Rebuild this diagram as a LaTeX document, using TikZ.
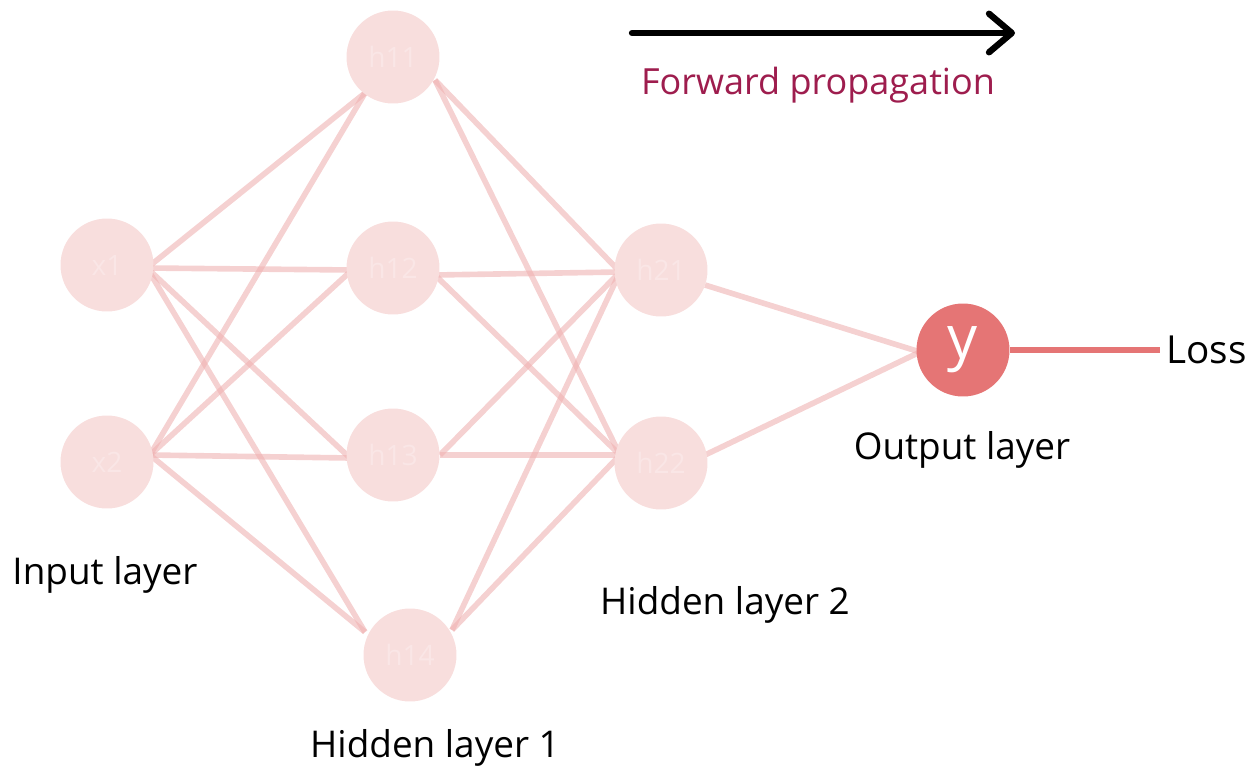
\documentclass[tikz,border=0pt]{standalone}
\usepackage{fontspec}
\setmainfont{Open Sans}
\usetikzlibrary{arrows.meta,backgrounds}
\definecolor{neuronfill}{HTML}{F8DEDD}
\definecolor{neurontext}{HTML}{FAE6E6}
\definecolor{edgecol}{HTML}{EFB2B2}
\definecolor{outfill}{HTML}{E57575}
\definecolor{fwdcol}{HTML}{9E1D4E}
\tikzset{
  neuron/.style={circle, fill=neuronfill, minimum size=1.86cm, inner sep=0pt,
    text=neurontext, font=\fontsize{16}{18}\selectfont},
  outneuron/.style={circle, fill=outfill, minimum size=1.86cm, inner sep=0pt,
    text=white, font=\fontsize{34}{36}\selectfont},
  wire/.style={draw=edgecol, line width=3.2pt, draw opacity=0.6},
  caption/.style={font=\fontsize{21}{24}\selectfont, text=black},
}
\begin{document}
\begin{tikzpicture}[x=0.02cm, y=-0.02cm]
\useasboundingbox (0,0) rectangle (1255,774);
% neurons
\node[neuron] (x1) at (107,265) {x1};
\node[neuron] (x2) at (107,462) {x2};
\node[neuron] (h11) at (393,57) {h11};
\node[neuron] (h12) at (393,268) {h12};
\node[neuron] (h13) at (393,455) {h13};
\node[neuron] (h14) at (410,655) {h14};
\node[neuron] (h21) at (661,270) {h21};
\node[neuron] (h22) at (661,463) {h22};
\node[outneuron] (y) at (963,350) {y};
% ports where the wires meet each neuron
\coordinate (x1-out) at (147,268);
\coordinate (x2-out) at (150,455);
\coordinate (h11-in) at (365,93);   \coordinate (h11-out) at (435,80);
\coordinate (h12-in) at (352,270);  \coordinate (h12-out) at (435,275);
\coordinate (h13-in) at (350,458);  \coordinate (h13-out) at (440,455);
\coordinate (h14-in) at (365,632);  \coordinate (h14-out) at (452,630);
\coordinate (h21-in) at (620,272);  \coordinate (h21-out) at (705,285);
\coordinate (h22-in) at (620,455);  \coordinate (h22-out) at (705,455);
\coordinate (y-in) at (920,352);
% connections
\begin{scope}[on background layer]
\foreach \a in {x1,x2}{
  \foreach \b in {h11,h12,h13,h14}{
    \draw[wire] (\a-out) -- (\b-in);
  }
}
\foreach \a in {h11,h12,h13,h14}{
  \foreach \b in {h21,h22}{
    \draw[wire] (\a-out) -- (\b-in);
  }
}
\draw[wire] (h21-out) -- (y-in);
\draw[wire] (h22-out) -- (y-in);
\end{scope}
% loss
\node[caption, anchor=west, font=\fontsize{22}{26}\selectfont] (loss) at (1160,350) {Loss};
\draw[draw=outfill, line width=3.6pt] (y.east) -- (loss.west);
% direction
\coordinate (fstart) at (632,33);
\coordinate (fend) at (1015,33);
\draw[line width=3.6pt, line cap=round, -{Straight Barb[length=13pt,width=22pt,round]}] (fstart) -- (fend);
\node[font=\fontsize{20.5}{24}\selectfont, text=fwdcol] (fwd) at (818,85) {Forward propagation};
% captions
\node[caption] (lin) at (105,575) {Input layer};
\node[caption] (lh1) at (435,748) {Hidden layer 1};
\node[caption] (lh2) at (725,605) {Hidden layer 2};
\node[caption] (lout) at (962,450) {Output layer};
\end{tikzpicture}
\end{document}
